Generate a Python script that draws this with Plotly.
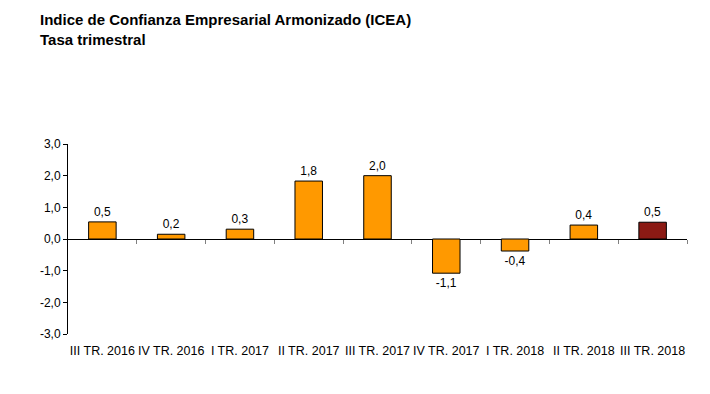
import plotly.graph_objects as go

categories = ["III TR. 2016", "IV TR. 2016", "I TR. 2017", "II TR. 2017", "III TR. 2017",
              "IV TR. 2017", "I TR. 2018", "II TR. 2018", "III TR. 2018"]
values = [0.54, 0.15, 0.31, 1.83, 2.0, -1.08, -0.38, 0.44, 0.53]
labels = ["0,5", "0,2", "0,3", "1,8", "2,0", "-1,1", "-0,4", "0,4", "0,5"]
y_ticks = [-3, -2, -1, 0, 1, 2, 3]
y_tick_text = ["-3,0", "-2,0", "-1,0", "0,0", "1,0", "2,0", "3,0"]
colors = ["#FF9900"] * 8 + ["#8B1A14"]

W, H = 702, 386  # page body has an 8px margin

fig = go.Figure()
fig.add_trace(go.Bar(
    x=list(range(len(categories))), y=values, text=labels, textposition="outside",
    textfont=dict(size=12, color="#000000"), cliponaxis=False,
    marker=dict(color=colors, line=dict(color="#000000", width=1)),
    width=0.4, showlegend=False, hoverinfo="skip"))
# invisible trace to host the tick-mark axis on the zero line
fig.add_trace(go.Scatter(x=[0], y=[0], xaxis="x2", mode="markers",
                         marker=dict(opacity=0), showlegend=False, hoverinfo="skip"))

fig.update_layout(
    width=W, height=H,
    margin=dict(l=60, r=23, t=136, b=60, autoexpand=False),
    paper_bgcolor="white", plot_bgcolor="white",
    font=dict(family="Liberation Sans, Arial, sans-serif", size=12, color="#000000"),
    title=dict(text="<b>Indice de Confianza Empresarial Armonizado (ICEA)<br>Tasa trimestral</b>",
               x=32 / W, xanchor="left", xref="container",
               y=1 - 17 / H, yanchor="top", yref="container",
               pad=dict(t=0, l=0, r=0, b=0),
               font=dict(size=15, color="#000000")),
    xaxis=dict(range=[-0.5, len(categories) - 0.5], tickvals=list(range(len(categories))),
               ticktext=categories, showline=False, ticks="", showgrid=False,
               zeroline=False, tickfont=dict(size=12.5), automargin=False,
               ticklabelstandoff=7),
    xaxis2=dict(range=[-0.5, len(categories) - 0.5], overlaying="x", anchor="free",
                position=0.5, side="bottom", showline=False, showgrid=False, zeroline=False,
                tickvals=[i + 0.5 for i in range(len(categories))], ticks="outside",
                ticklen=4, tickcolor="#808080", showticklabels=False, automargin=False),
    yaxis=dict(range=[-3, 3], tickvals=y_ticks, ticktext=y_tick_text,
               showline=True, linecolor="#000000", linewidth=1, ticks="outside", ticklen=4,
               tickcolor="#000000", showgrid=False, zeroline=True, zerolinecolor="#000000",
               zerolinewidth=1, tickfont=dict(size=12), automargin=False),
)

fig.write_html("out.html")
